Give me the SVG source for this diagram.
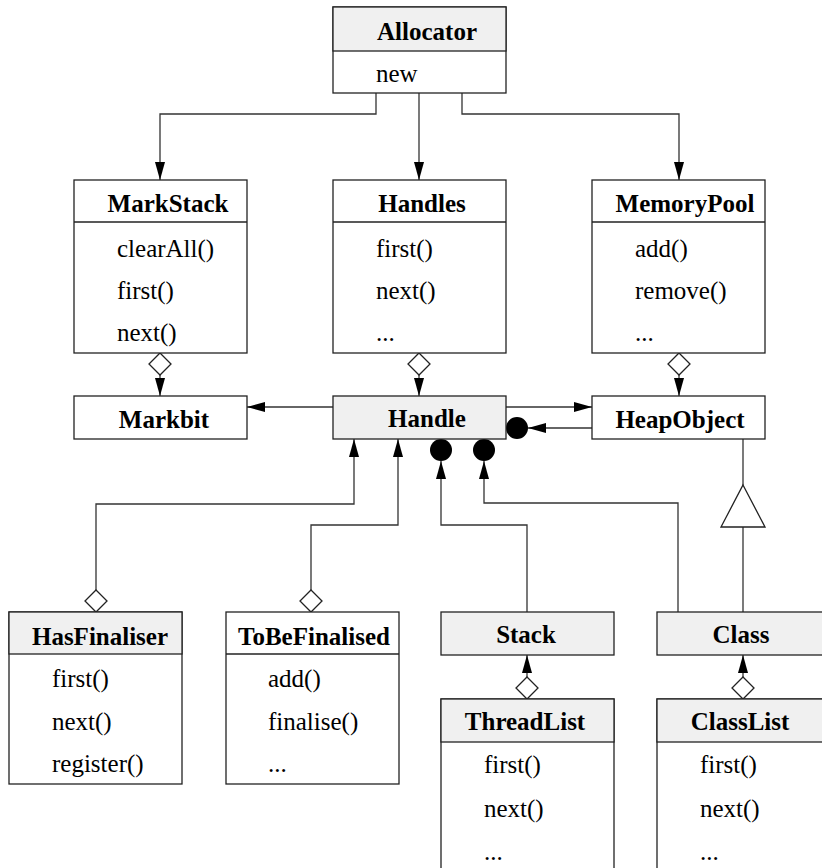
<svg xmlns="http://www.w3.org/2000/svg" width="822" height="868" viewBox="0 0 822 868">
  <style>
    .box { fill: #ffffff; stroke: #222; stroke-width: 1.3; }
    .hdr { fill: #f0f0f0; stroke: #222; stroke-width: 1.3; }
    .sep { stroke: #222; stroke-width: 1.3; }
    .title { font-family: "Liberation Serif", "Times New Roman", serif; font-size: 25px; font-weight: bold; fill: #000; text-anchor: middle; }
    .item { font-family: "Liberation Serif", "Times New Roman", serif; font-size: 25px; fill: #000; }
    .wire { fill: none; stroke: #333; stroke-width: 1.3; }
    .arrow { marker-end: url(#head); }
    .dia { fill: #ffffff; stroke: #222; stroke-width: 1.3; }
    .dot { fill: #000; }
    .tri { fill: #ffffff; stroke: #222; stroke-width: 1.3; }
  </style>
  <defs>
    <marker id="head" viewBox="0 0 18 10" refX="18" refY="5" markerWidth="18" markerHeight="10" markerUnits="userSpaceOnUse" orient="auto">
      <path d="M0,0 L18,5 L0,10 Z" fill="#000"/>
    </marker>
  </defs>

  <rect width="822" height="868" fill="#ffffff"/>

  <!-- connectors -->
  <g id="connectors">
    <!-- Allocator creates the three containers -->
    <path class="wire arrow" d="M376,93 V114 H160 V180"/>
    <path class="wire arrow" d="M419,93 V180"/>
    <path class="wire arrow" d="M462,93 V114 H679 V180"/>

    <!-- aggregations from the containers -->
    <path class="wire arrow" d="M160,375 V396"/>
    <path class="dia" d="M160,353 L171,364 L160,375 L149,364 Z"/>
    <path class="wire arrow" d="M419,375 V396"/>
    <path class="dia" d="M419,353 L430,364 L419,375 L408,364 Z"/>
    <path class="wire arrow" d="M679,375 V396"/>
    <path class="dia" d="M679,353 L690,364 L679,375 L668,364 Z"/>

    <!-- Handle links -->
    <path class="wire arrow" d="M333,407 H247"/>
    <path class="wire arrow" d="M506,407 H592"/>
    <path class="wire arrow" d="M592,428 H528"/>
    <circle class="dot" cx="517" cy="428" r="11"/>

    <!-- finaliser lists -->
    <path class="wire arrow" d="M96,590 V504 H354 V439"/>
    <path class="dia" d="M96,590 L107,601 L96,612 L85,601 Z"/>
    <path class="wire arrow" d="M311,590 V525 H398 V439"/>
    <path class="dia" d="M311,590 L322,601 L311,612 L300,601 Z"/>

    <!-- Stack and Class refer to Handle -->
    <path class="wire arrow" d="M527,612 V525 H441 V461"/>
    <circle class="dot" cx="441" cy="450" r="11"/>
    <path class="wire arrow" d="M678,612 V503 H484 V461"/>
    <circle class="dot" cx="484" cy="450" r="11"/>

    <!-- Class is a HeapObject -->
    <path class="wire" d="M743,612 V527"/>
    <path class="wire" d="M743,485 V439"/>
    <path class="tri" d="M743,485 L765,527 L721,527 Z"/>

    <!-- lists of stacks and classes -->
    <path class="wire arrow" d="M527,677 V655"/>
    <path class="dia" d="M527,677 L538,688 L527,699 L516,688 Z"/>
    <path class="wire arrow" d="M743,677 V655"/>
    <path class="dia" d="M743,677 L754,688 L743,699 L732,688 Z"/>
  </g>

  <g id="Allocator">
    <rect class="box" x="333" y="7" width="173" height="86"/>
    <rect class="hdr" x="333" y="7" width="173" height="44"/>
    <text class="title" x="427" y="40">Allocator</text>
    <text class="item" x="376" y="82">new</text>
  </g>

  <g id="MarkStack">
    <rect class="box" x="74" y="180" width="173" height="173"/>
    <line class="sep" x1="74" y1="222" x2="247" y2="222"/>
    <text class="title" x="168" y="212">MarkStack</text>
    <text class="item" x="117" y="257">clearAll()</text>
    <text class="item" x="117" y="299">first()</text>
    <text class="item" x="117" y="341">next()</text>
  </g>

  <g id="Handles">
    <rect class="box" x="333" y="180" width="173" height="173"/>
    <line class="sep" x1="333" y1="222" x2="506" y2="222"/>
    <text class="title" x="422" y="212">Handles</text>
    <text class="item" x="376" y="257">first()</text>
    <text class="item" x="376" y="299">next()</text>
    <text class="item" x="376" y="341">...</text>
  </g>

  <g id="MemoryPool">
    <rect class="box" x="592" y="180" width="173" height="173"/>
    <line class="sep" x1="592" y1="222" x2="765" y2="222"/>
    <text class="title" x="685" y="212">MemoryPool</text>
    <text class="item" x="635" y="257">add()</text>
    <text class="item" x="635" y="299">remove()</text>
    <text class="item" x="635" y="341">...</text>
  </g>

  <g id="Markbit">
    <rect class="box" x="74" y="396" width="173" height="43"/>
    <text class="title" x="164" y="428">Markbit</text>
  </g>

  <g id="Handle">
    <rect class="hdr" x="333" y="396" width="173" height="43"/>
    <text class="title" x="427" y="427">Handle</text>
  </g>

  <g id="HeapObject">
    <rect class="box" x="592" y="396" width="173" height="43"/>
    <text class="title" x="680" y="428">HeapObject</text>
  </g>

  <g id="HasFinaliser">
    <rect class="box" x="9" y="612" width="173" height="172"/>
    <rect class="hdr" x="9" y="612" width="173" height="42"/>
    <text class="title" x="100" y="645">HasFinaliser</text>
    <text class="item" x="52" y="687">first()</text>
    <text class="item" x="52" y="730">next()</text>
    <text class="item" x="52" y="772">register()</text>
  </g>

  <g id="ToBeFinalised">
    <rect class="box" x="226" y="612" width="173" height="172"/>
    <line class="sep" x1="226" y1="654" x2="399" y2="654"/>
    <text class="title" x="314" y="645">ToBeFinalised</text>
    <text class="item" x="268" y="687">add()</text>
    <text class="item" x="268" y="730">finalise()</text>
    <text class="item" x="268" y="772">...</text>
  </g>

  <g id="Stack">
    <rect class="hdr" x="441" y="612" width="173" height="43"/>
    <text class="title" x="526" y="643">Stack</text>
  </g>

  <g id="Class">
    <rect class="hdr" x="657" y="612" width="173" height="43"/>
    <text class="title" x="741" y="643">Class</text>
  </g>

  <g id="ThreadList">
    <rect class="box" x="441" y="699" width="173" height="190"/>
    <rect class="hdr" x="441" y="699" width="173" height="43"/>
    <text class="title" x="525" y="730">ThreadList</text>
    <text class="item" x="484" y="773">first()</text>
    <text class="item" x="484" y="817">next()</text>
    <text class="item" x="484" y="860">...</text>
  </g>

  <g id="ClassList">
    <rect class="box" x="657" y="699" width="173" height="190"/>
    <rect class="hdr" x="657" y="699" width="173" height="43"/>
    <text class="title" x="740" y="730">ClassList</text>
    <text class="item" x="700" y="773">first()</text>
    <text class="item" x="700" y="817">next()</text>
    <text class="item" x="700" y="860">...</text>
  </g>
</svg>
